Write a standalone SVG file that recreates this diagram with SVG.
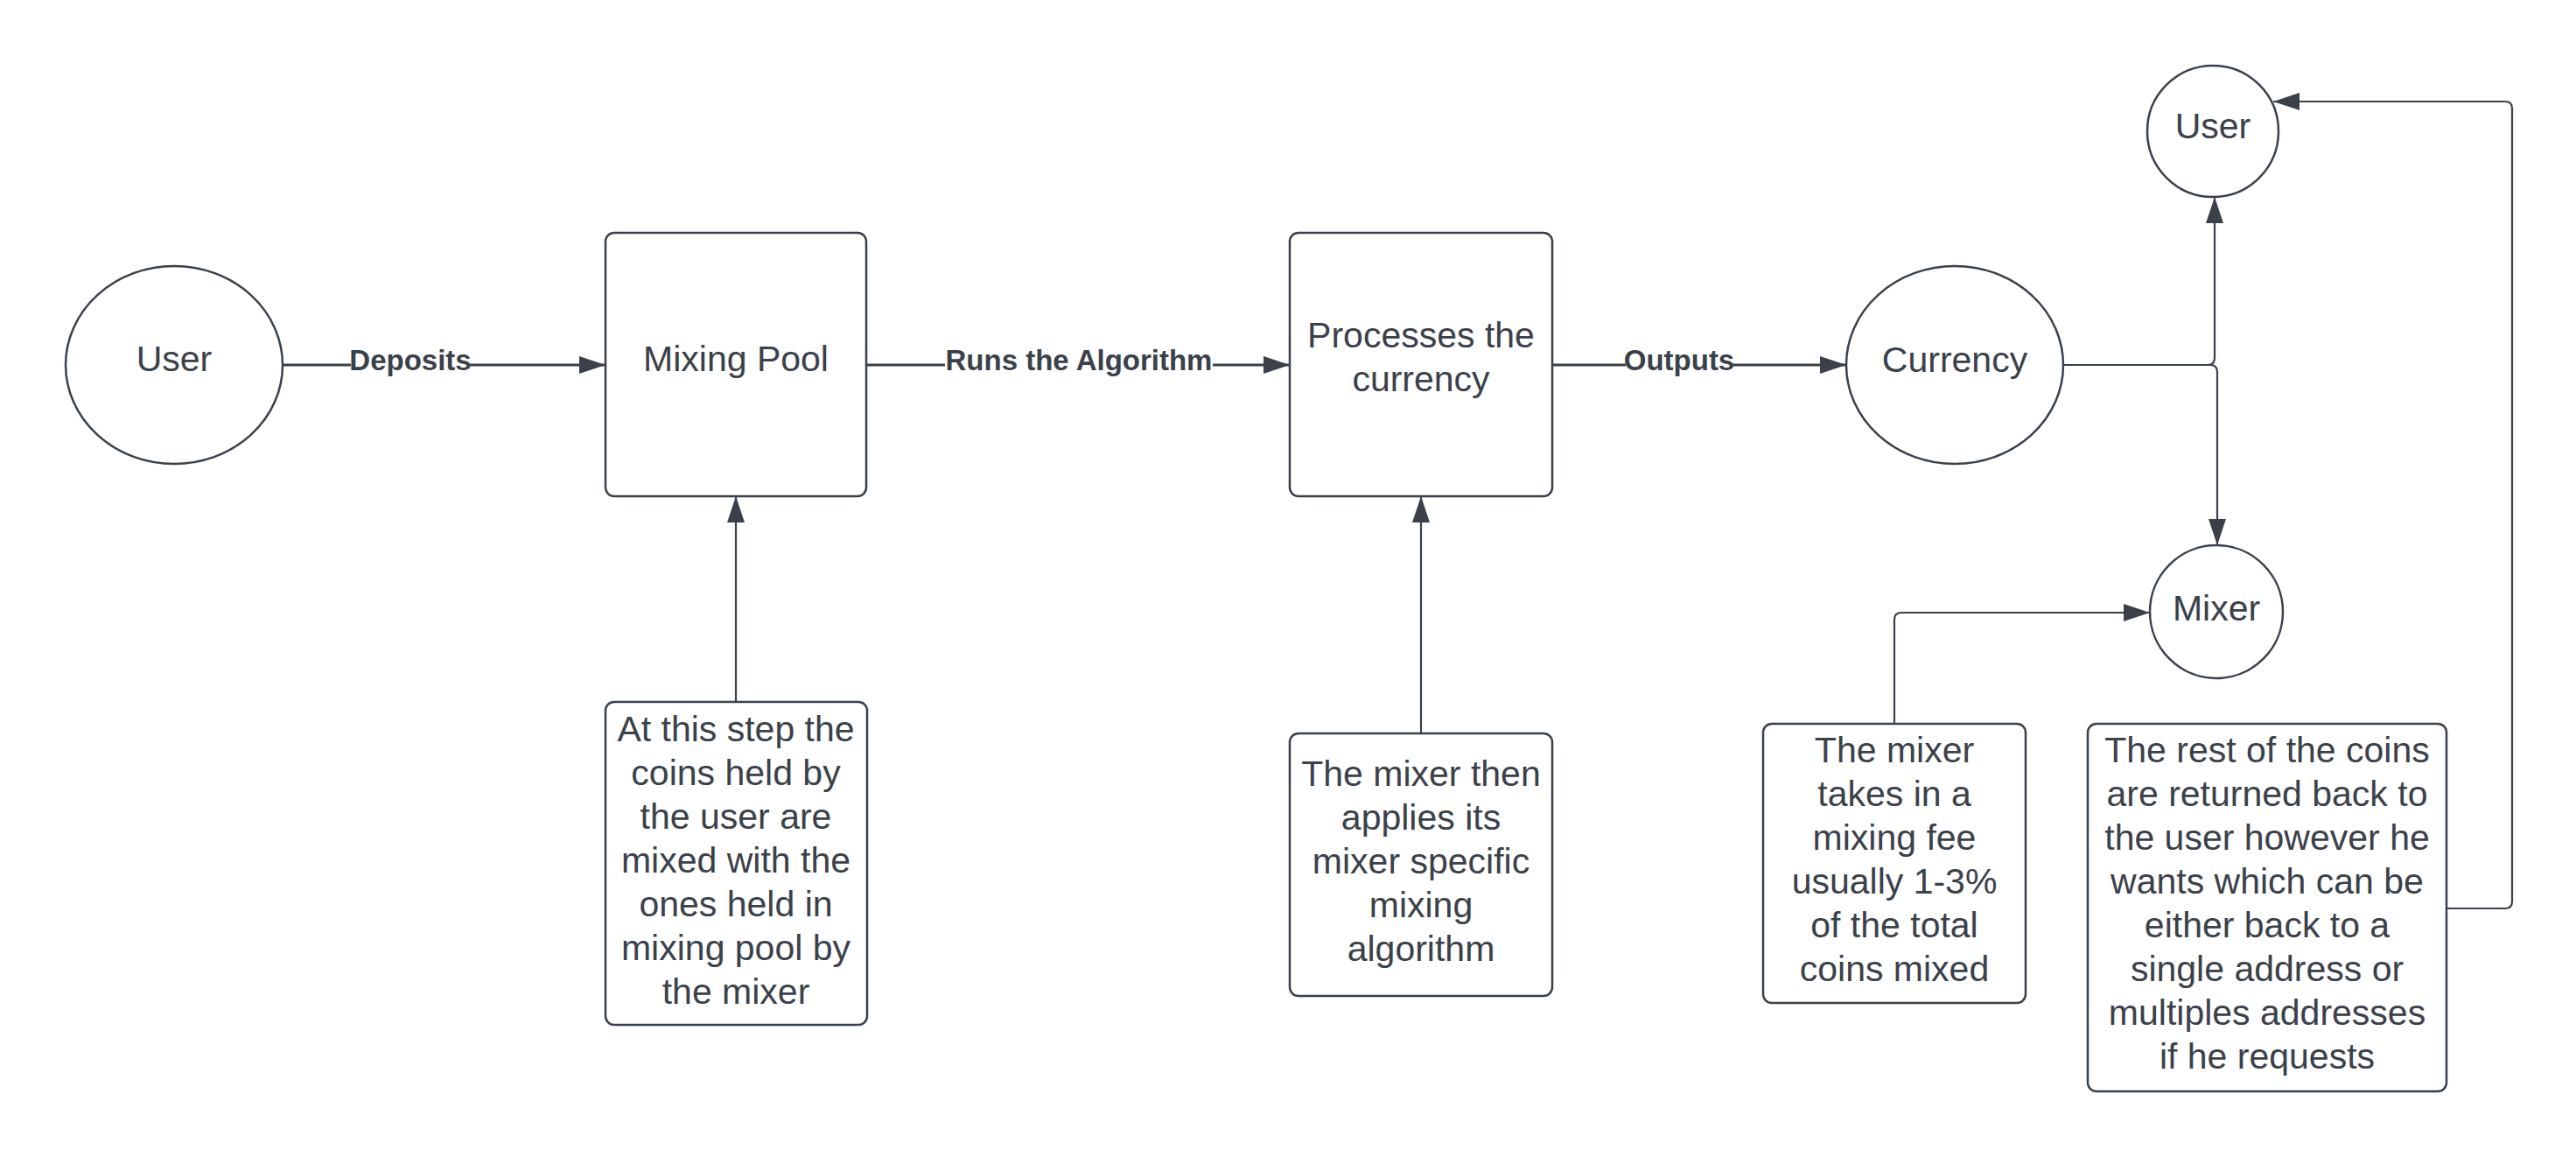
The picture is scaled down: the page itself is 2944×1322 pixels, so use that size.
<svg xmlns="http://www.w3.org/2000/svg" width="2944" height="1322" viewBox="0 0 2944 1322">
<defs>
<style>
.n{fill:#fff;stroke:#3a414a;stroke-width:2.5}
.t{font-family:"Liberation Sans",Arial,sans-serif;font-size:41px;fill:#3a414a;text-anchor:middle}
.lb{font-family:"Liberation Sans",Arial,sans-serif;font-size:33px;font-weight:bold;fill:#3a414a;text-anchor:middle}
.c{fill:none;stroke:#3a414a;stroke-width:2.2}
.c3{fill:none;stroke:#3a414a;stroke-width:3}
</style>
<marker id="ah" viewBox="0 0 30 20" refX="30" refY="10" markerWidth="30" markerHeight="20" markerUnits="userSpaceOnUse" orient="auto">
<path d="M0,0 L30,10 L0,20 Z" fill="#3a414a"/>
</marker>
</defs>
<rect width="2944" height="1322" fill="#fff"/>
<g id="connectors">
<path class="c3" d="M323,417 H692" marker-end="url(#ah)"/>
<path class="c3" d="M990,417 H1474" marker-end="url(#ah)"/>
<path class="c3" d="M1774,417 H2110" marker-end="url(#ah)"/>
<path class="c" d="M841,802 V567" marker-end="url(#ah)"/>
<path class="c" d="M1624,838 V567" marker-end="url(#ah)"/>
<path class="c" d="M2358,417 H2523 Q2531,417 2531,409 V225" marker-end="url(#ah)"/>
<path class="c" d="M2358,417 H2526 Q2534,417 2534,425 V623" marker-end="url(#ah)"/>
<path class="c" d="M2165,827 V708 Q2165,700 2173,700 H2457" marker-end="url(#ah)"/>
<path class="c" d="M2796,1038 H2863 Q2871,1038 2871,1030 V124 Q2871,116 2863,116 H2598" marker-end="url(#ah)"/>
<rect x="401" y="400" width="136" height="32" fill="#fff"/>
<text class="lb" x="469" y="423">Deposits</text>
<rect x="1080" y="400" width="306" height="32" fill="#fff"/>
<text class="lb" x="1233" y="423">Runs the Algorithm</text>
<rect x="1858" y="400" width="122" height="32" fill="#fff"/>
<text class="lb" x="1919" y="423">Outputs</text>
</g>
<g id="user1">
<ellipse class="n" cx="199" cy="417" rx="124" ry="113"/>
<text class="t" x="199" y="424">User</text>
</g>
<g id="mixing-pool">
<rect class="n" x="692" y="266" width="298" height="301" rx="10"/>
<text class="t" x="841" y="424">Mixing Pool</text>
</g>
<g id="processes">
<rect class="n" x="1474" y="266" width="300" height="301" rx="10"/>
<text class="t" x="1624" y="397">Processes the</text>
<text class="t" x="1624" y="447">currency</text>
</g>
<g id="currency">
<ellipse class="n" cx="2234" cy="417" rx="124" ry="113"/>
<text class="t" x="2234" y="425">Currency</text>
</g>
<g id="user2">
<ellipse class="n" cx="2529" cy="150" rx="75" ry="75"/>
<text class="t" x="2529" y="158">User</text>
</g>
<g id="mixer">
<ellipse class="n" cx="2533" cy="699" rx="76" ry="76"/>
<text class="t" x="2533" y="709">Mixer</text>
</g>
<g id="note-pool">
<rect class="n" x="692" y="802" width="299" height="369" rx="10"/>
<text class="t" x="841" y="847">At this step the</text>
<text class="t" x="841" y="897">coins held by</text>
<text class="t" x="841" y="947">the user are</text>
<text class="t" x="841" y="997">mixed with the</text>
<text class="t" x="841" y="1047">ones held in</text>
<text class="t" x="841" y="1097">mixing pool by</text>
<text class="t" x="841" y="1147">the mixer</text>
</g>
<g id="note-algorithm">
<rect class="n" x="1474" y="838" width="300" height="300" rx="10"/>
<text class="t" x="1624" y="898">The mixer then</text>
<text class="t" x="1624" y="948">applies its</text>
<text class="t" x="1624" y="998">mixer specific</text>
<text class="t" x="1624" y="1048">mixing</text>
<text class="t" x="1624" y="1098">algorithm</text>
</g>
<g id="note-fee">
<rect class="n" x="2015" y="827" width="300" height="319" rx="10"/>
<text class="t" x="2165" y="871">The mixer</text>
<text class="t" x="2165" y="921">takes in a</text>
<text class="t" x="2165" y="971">mixing fee</text>
<text class="t" x="2165" y="1021">usually 1-3%</text>
<text class="t" x="2165" y="1071">of the total</text>
<text class="t" x="2165" y="1121">coins mixed</text>
</g>
<g id="note-rest">
<rect class="n" x="2386" y="827" width="410" height="420" rx="10"/>
<text class="t" x="2591" y="871">The rest of the coins</text>
<text class="t" x="2591" y="921">are returned back to</text>
<text class="t" x="2591" y="971">the user however he</text>
<text class="t" x="2591" y="1021">wants which can be</text>
<text class="t" x="2591" y="1071">either back to a</text>
<text class="t" x="2591" y="1121">single address or</text>
<text class="t" x="2591" y="1171">multiples addresses</text>
<text class="t" x="2591" y="1221">if he requests</text>
</g>
</svg>
